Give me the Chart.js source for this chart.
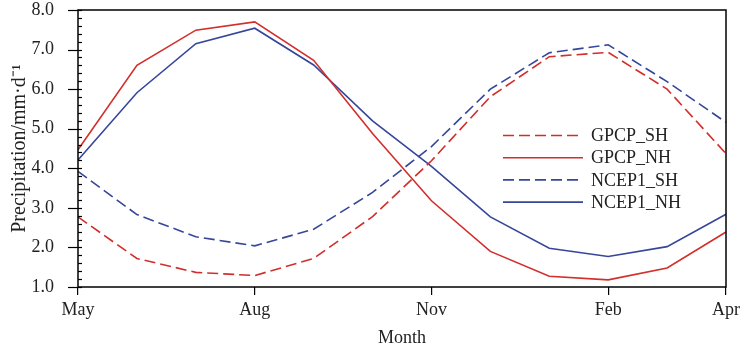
<!DOCTYPE html>
<html>
<head>
<meta charset="utf-8">
<script src="https://cdn.jsdelivr.net/npm/chart.js@4/dist/chart.umd.min.js"></script>
<style>
  html, body { margin: 0; padding: 0; background: #fff; }
  #wrap { width: 744px; height: 347px; }
</style>
</head>
<body>
<div id="wrap"><canvas id="precip"></canvas></div>
<script>
// mois, de mai à avril
const months = ['May', 'Jun', 'Jul', 'Aug', 'Sep', 'Oct', 'Nov', 'Dec', 'Jan', 'Feb', 'Mar', 'Apr'];
// positions des mois étiquetés sur l'axe x
const monthTicks = [0, 3, 6, 9, 11];

// précipitations moyennes (mm/j)
const gpcpSH  = [2.77, 1.72, 1.37, 1.29, 1.72, 2.78, 4.19, 5.81, 6.82, 6.93, 6.00, 4.37];
const gpcpNH  = [4.47, 6.60, 7.49, 7.70, 6.73, 4.88, 3.18, 1.90, 1.27, 1.18, 1.48, 2.39];
const ncepSH  = [3.92, 2.83, 2.27, 2.04, 2.46, 3.39, 4.55, 6.00, 6.92, 7.12, 6.19, 5.16];
const ncepNH  = [4.21, 5.91, 7.15, 7.54, 6.61, 5.20, 4.05, 2.77, 1.98, 1.77, 2.02, 2.84];

const rouge = '#d22e2b';
const bleu = '#36469b';
const tirets = [11, 5];
const police = 'Liberation Serif, Times New Roman, serif';

// cadre noir autour de la zone de tracé + graduations de l'axe y
const cadre = {
  id: 'cadre',
  afterDraw(chart) {
    const { ctx, chartArea: a, scales } = chart;
    ctx.save();
    ctx.strokeStyle = '#000';
    ctx.lineWidth = 1.5;
    ctx.strokeRect(a.left, a.top, a.right - a.left, a.bottom - a.top);
    ctx.lineWidth = 1.2;
    scales.y.ticks.forEach(t => {
      const py = Math.round(scales.y.getPixelForValue(t.value)) + 0.5;
      const majeur = Math.abs(t.value - Math.round(t.value)) < 1e-6;
      ctx.beginPath();
      ctx.moveTo(a.left - (majeur ? 10 : 0), py);
      ctx.lineTo(a.left + 4, py);
      ctx.stroke();
    });
    ctx.restore();
  }
};

// légende dans la zone de tracé, à droite
const legende = {
  id: 'legende',
  afterDatasetsDraw(chart) {
    const { ctx, chartArea: a } = chart;
    const x0 = a.left + 425, x1 = a.left + 505, xt = a.left + 513;
    let y = a.top + 125.5;
    ctx.save();
    ctx.font = '18px ' + police;
    ctx.textBaseline = 'middle';
    chart.data.datasets.forEach(ds => {
      ctx.strokeStyle = ds.borderColor;
      ctx.lineWidth = ds.borderWidth;
      ctx.setLineDash(ds.borderDash || []);
      ctx.beginPath();
      ctx.moveTo(x0, y);
      ctx.lineTo(x1, y);
      ctx.stroke();
      ctx.setLineDash([]);
      ctx.fillStyle = '#222';
      ctx.fillText(ds.label, xt, y + 1);
      y += 22.2;
    });
    ctx.restore();
  }
};

const serie = (label, data, couleur, dash) => ({
  label: label,
  data: data,
  borderColor: couleur,
  borderWidth: 1.6,
  borderDash: dash,
  pointRadius: 0,
  fill: false,
  tension: 0
});

new Chart(document.getElementById('precip'), {
  type: 'line',
  data: {
    labels: months,
    datasets: [
      serie('GPCP_SH', gpcpSH, rouge, tirets),
      serie('GPCP_NH', gpcpNH, rouge, []),
      serie('NCEP1_SH', ncepSH, bleu, tirets),
      serie('NCEP1_NH', ncepNH, bleu, [])
    ]
  },
  options: {
    responsive: true,
    maintainAspectRatio: false,
    animation: false,
    layout: { padding: { top: 10, right: 18, left: 0, bottom: 0 } },
    plugins: {
      legend: { display: false },
      tooltip: { enabled: false }
    },
    scales: {
      x: {
        type: 'category',
        offset: false,
        afterBuildTicks: s => { s.ticks = s.ticks.filter(t => monthTicks.includes(t.value)); },
        afterFit: s => { s.height = 60; s.paddingLeft = 0; s.paddingRight = 0; },
        grid: { drawOnChartArea: false, drawTicks: true, tickLength: 8, color: '#000', lineWidth: 1.2 },
        border: { display: false },
        ticks: {
          autoSkip: false,
          maxRotation: 0,
          padding: 4,
          color: '#222',
          font: { family: police, size: 18 }
        },
        title: {
          display: true,
          text: 'Month',
          color: '#222',
          padding: { top: 4, bottom: -2 },
          font: { family: police, size: 18 }
        }
      },
      y: {
        min: 1,
        max: 8,
        afterFit: s => { s.width = 78; s.paddingTop = 0; s.paddingBottom = 0; },
        grid: { display: false },
        border: { display: false },
        ticks: {
          stepSize: 0.2,
          autoSkip: false,
          padding: 16,
          color: '#222',
          font: { family: police, size: 18 },
          callback: v => Math.abs(v - Math.round(v)) < 1e-6 ? v.toFixed(1) : ''
        },
        title: {
          display: true,
          text: 'Precipitation/mm·d⁻¹',
          color: '#222',
          padding: { top: 8, bottom: 0 },
          font: { family: police, size: 20 }
        }
      }
    }
  },
  plugins: [cadre, legende]
});
</script>
</body>
</html>
